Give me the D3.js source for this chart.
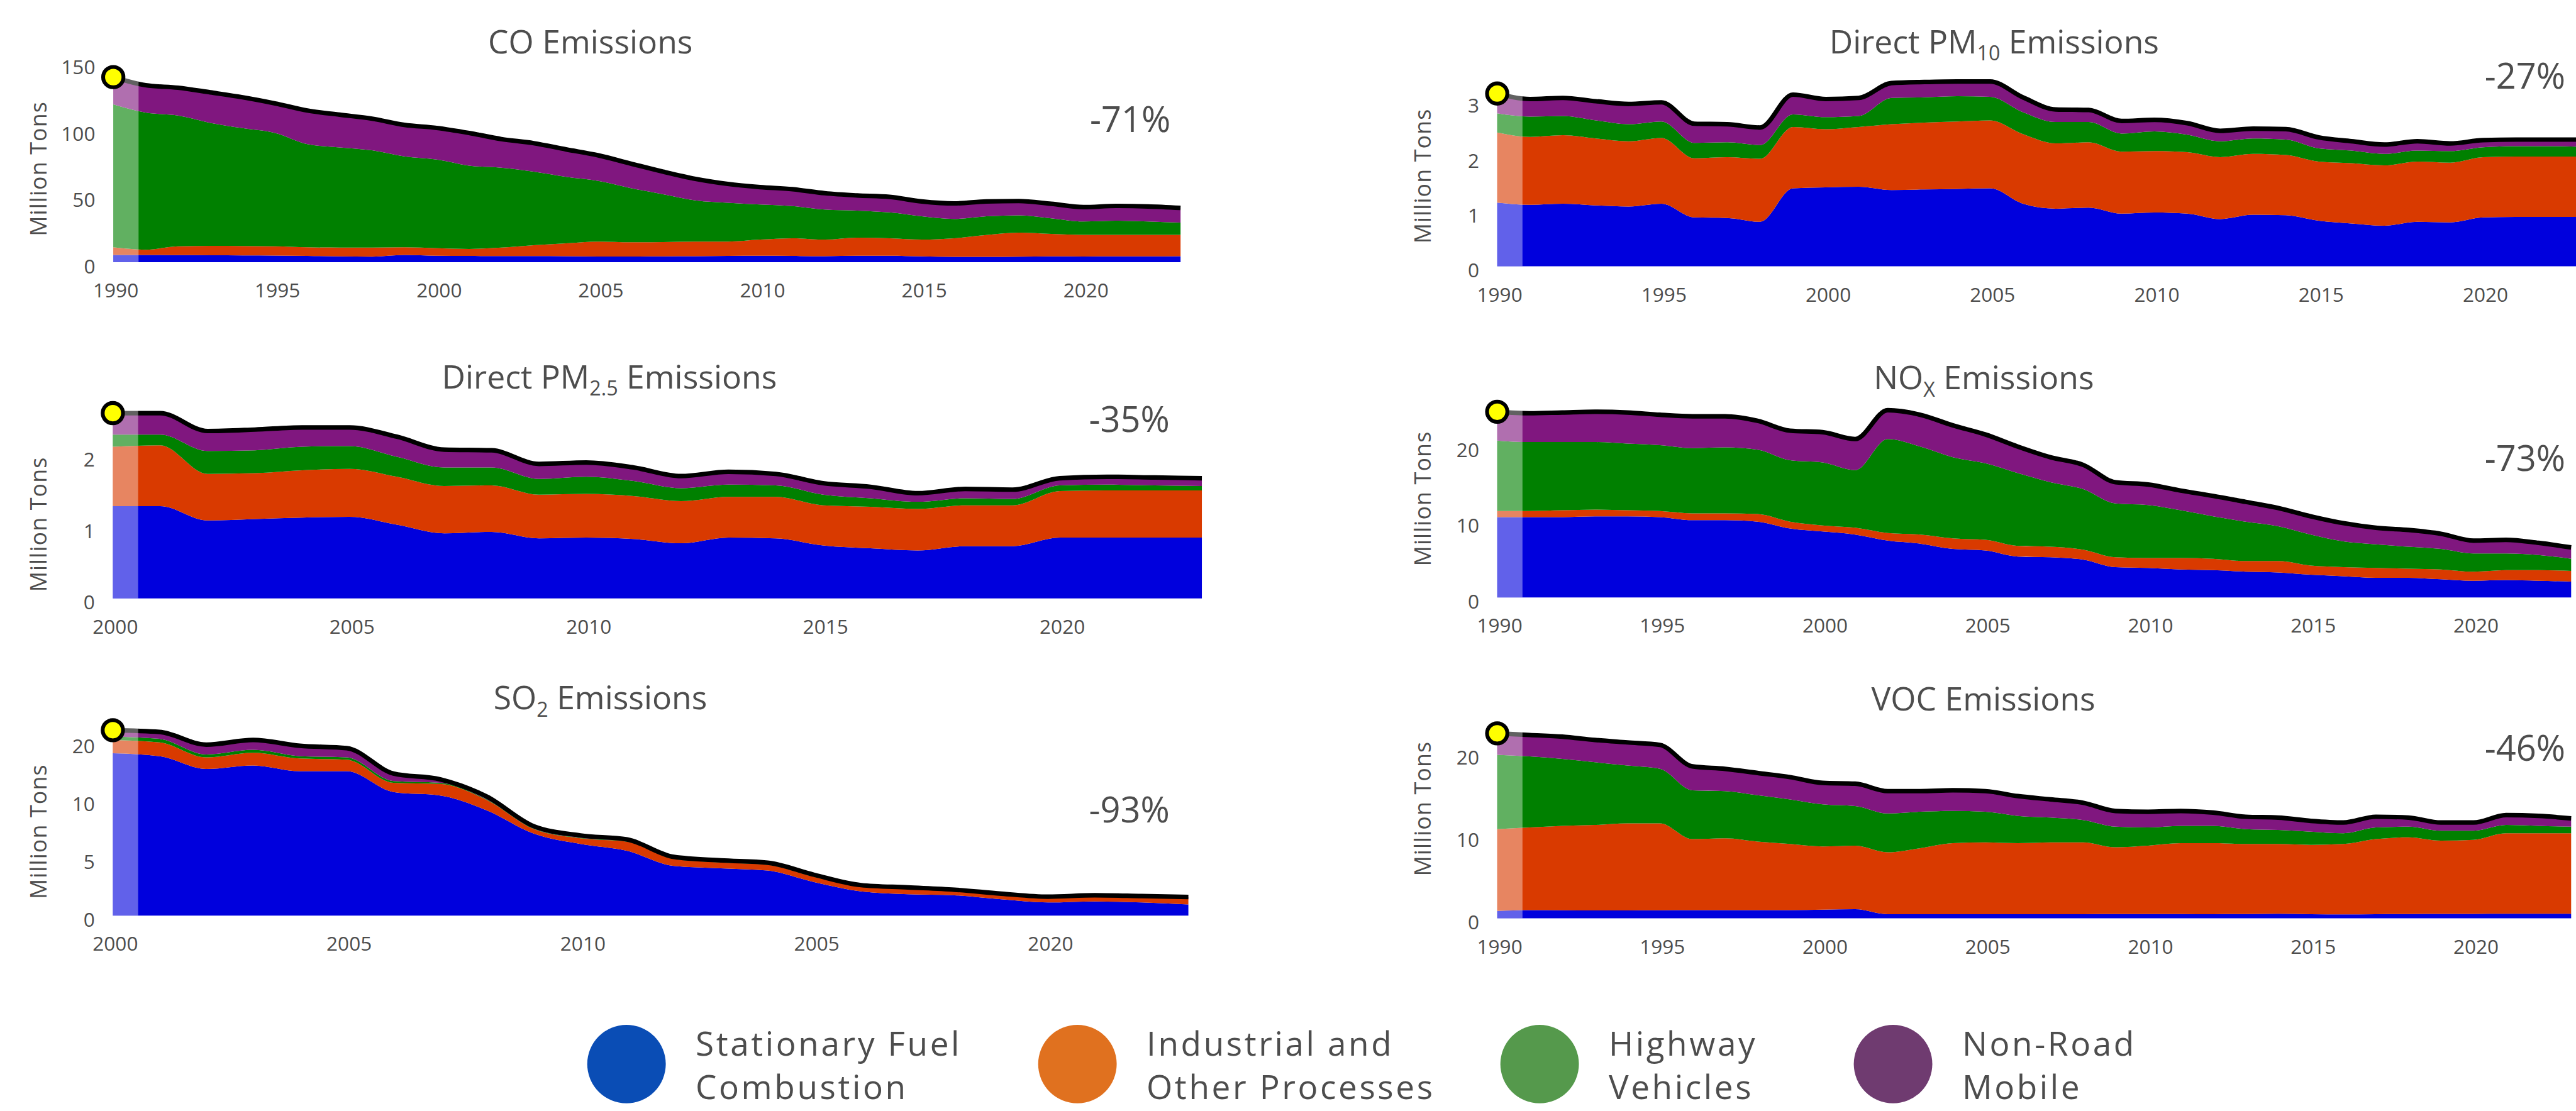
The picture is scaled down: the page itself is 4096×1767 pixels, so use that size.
<!DOCTYPE html>
<html>
<head>
<meta charset="utf-8">
<script src="https://cdn.jsdelivr.net/npm/d3@7"></script>
<style>
  html, body { margin: 0; padding: 0; background: #fff; overflow: hidden; }
  svg { display: block; }
  text { font-family: "Open Sans", "Noto Sans", sans-serif; fill: #4d4d4d; }
</style>
</head>
<body>
<svg id="chart"></svg>
<script>
// ---------------------------------------------------------------------------
// Data: emissions by source sector, million tons per year
// ---------------------------------------------------------------------------
const sectorKeys = ["stationary", "industrial", "highway", "nonroad"];
const sectorNames = [
  ["Stationary Fuel", "Combustion"],
  ["Industrial and", "Other Processes"],
  ["Highway", "Vehicles"],
  ["Non-Road", "Mobile"]
];

const years1990 = d3.range(1990, 2024);
const years2000 = d3.range(2000, 2024);

// CO, 1990-2023
const coStationary = [5.4,5.5,5.3,5.2,5.1,5.0,4.7,4.4,4.2,5.4,4.8,4.7,4.6,4.6,4.5,4.3,4.3,4.4,4.5,4.7,4.8,4.7,4.5,4.8,4.9,4.4,4.0,4.0,4.2,4.4,4.3,4.4,4.4,4.5];
const coIndustrial = [5.8,3.9,6.7,7.1,7.1,7.0,6.5,6.6,6.8,5.8,5.7,5.3,6.4,8.2,9.7,11.2,10.7,10.8,11.0,10.8,12.2,13.3,12.5,13.7,13.1,12.6,14.0,16.5,18.1,16.9,16.3,16.2,16.2,16.1];
const coHighway    = [107.8,103.4,98.5,92.7,88.8,85.4,77.8,75.5,73.3,68.5,66.9,62.8,60.2,55.4,50.1,45.7,40.8,36.0,31.1,29.3,26.5,24.3,22.7,20.4,19.5,17.6,14.6,14.1,13.0,11.8,10.1,10.7,10.1,9.2];
const coNonroad    = [20.5,20.6,21.0,23.0,23.3,22.3,25.3,24.7,23.9,23.8,23.8,24.6,21.6,21.5,20.7,19.3,18.5,17.0,16.2,14.2,13.1,12.7,12.3,11.4,11.7,11.2,11.7,11.2,10.8,10.9,10.8,11.1,11.3,11.1];

// Direct PM10, 1990-2023
const pm10Stationary = [1.16,1.12,1.14,1.11,1.09,1.14,0.89,0.88,0.81,1.42,1.44,1.45,1.39,1.40,1.41,1.42,1.14,1.05,1.07,0.96,0.98,0.96,0.86,0.94,0.93,0.83,0.78,0.74,0.81,0.80,0.89,0.90,0.90,0.90];
const pm10Industrial = [1.28,1.24,1.25,1.22,1.19,1.20,1.08,1.11,1.15,1.12,1.06,1.09,1.20,1.22,1.23,1.24,1.27,1.19,1.19,1.13,1.12,1.12,1.13,1.11,1.10,1.08,1.10,1.10,1.10,1.09,1.10,1.10,1.10,1.10];
const pm10Highway    = [0.35,0.37,0.35,0.33,0.31,0.30,0.28,0.27,0.25,0.23,0.22,0.20,0.48,0.46,0.46,0.43,0.40,0.39,0.37,0.33,0.36,0.32,0.29,0.28,0.28,0.24,0.23,0.21,0.20,0.21,0.18,0.19,0.19,0.18];
const pm10Nonroad    = [0.36,0.32,0.33,0.35,0.37,0.35,0.35,0.33,0.32,0.36,0.33,0.33,0.27,0.28,0.27,0.28,0.27,0.23,0.22,0.23,0.21,0.21,0.19,0.18,0.19,0.20,0.17,0.17,0.17,0.14,0.13,0.12,0.12,0.13];

// Direct PM2.5, 2000-2023
const pm25Stationary = [1.29,1.29,1.09,1.11,1.13,1.14,1.03,0.91,0.93,0.84,0.85,0.83,0.77,0.85,0.84,0.74,0.70,0.67,0.73,0.73,0.85,0.85,0.85,0.85];
const pm25Industrial = [0.83,0.85,0.65,0.64,0.66,0.67,0.67,0.66,0.65,0.61,0.61,0.60,0.59,0.57,0.58,0.56,0.58,0.58,0.57,0.57,0.65,0.66,0.66,0.66];
const pm25Highway    = [0.17,0.15,0.32,0.32,0.33,0.32,0.28,0.26,0.25,0.22,0.24,0.21,0.18,0.17,0.16,0.15,0.12,0.10,0.10,0.09,0.08,0.08,0.07,0.06];
const pm25Nonroad    = [0.30,0.30,0.28,0.29,0.27,0.26,0.28,0.25,0.24,0.21,0.20,0.19,0.17,0.18,0.16,0.16,0.16,0.12,0.13,0.13,0.10,0.11,0.11,0.11];

// NOx, 1990-2023
const noxStationary = [10.6,10.6,10.6,10.7,10.7,10.6,10.2,10.2,10.0,9.1,8.7,8.3,7.5,7.1,6.4,6.2,5.4,5.3,5.0,4.0,3.9,3.7,3.6,3.4,3.3,3.0,2.8,2.6,2.6,2.4,2.2,2.3,2.2,2.1];
const noxIndustrial = [0.8,0.8,0.9,0.9,0.8,0.8,0.9,0.9,1.0,0.9,0.8,0.9,1.0,1.2,1.4,1.4,1.4,1.4,1.3,1.3,1.3,1.5,1.5,1.4,1.5,1.2,1.2,1.3,1.2,1.3,1.2,1.3,1.4,1.4];
const noxHighway    = [9.3,9.1,9.0,8.9,8.8,8.7,8.6,8.7,8.5,8.1,8.3,7.6,12.4,11.6,10.7,10.1,9.6,8.5,8.0,7.1,7.0,6.3,5.6,5.2,4.6,4.1,3.4,3.1,2.9,2.7,2.4,2.2,2.0,1.6];
const noxNonroad    = [3.8,3.8,3.9,4.0,4.1,4.0,4.2,4.1,3.8,3.9,4.0,4.1,3.8,4.2,4.2,3.8,3.5,3.3,3.2,2.8,2.7,2.6,2.7,2.6,2.4,2.4,2.4,2.2,2.2,2.0,1.7,1.8,1.6,1.5];

// SO2, 2000-2023
const so2Stationary = [14.05,13.8,12.7,13.0,12.5,12.5,10.7,10.4,9.1,7.1,6.2,5.6,4.3,4.1,3.9,2.9,2.1,1.85,1.76,1.41,1.14,1.23,1.14,0.97];
const so2Industrial = [1.15,1.2,1.0,1.1,1.1,1.0,0.8,1.0,0.9,0.4,0.5,0.8,0.6,0.5,0.5,0.45,0.4,0.45,0.34,0.35,0.36,0.39,0.41,0.5];
const so2Highway    = [0.3,0.3,0.25,0.25,0.2,0.2,0.15,0.1,0.05,0.04,0.04,0.04,0.03,0.03,0.03,0.03,0.02,0.02,0.02,0.02,0.02,0.02,0.02,0.02];
const so2Nonroad    = [0.55,0.6,0.85,0.85,0.9,0.8,0.65,0.3,0.25,0.2,0.2,0.15,0.15,0.15,0.15,0.15,0.12,0.12,0.12,0.12,0.12,0.12,0.12,0.12];

// VOC, 1990-2023
const vocStationary = [0.9,1.0,0.98,0.96,0.96,0.97,0.99,0.99,1.0,1.0,1.05,1.1,0.5,0.5,0.5,0.5,0.5,0.5,0.5,0.51,0.52,0.52,0.5,0.52,0.55,0.5,0.48,0.5,0.52,0.53,0.54,0.55,0.55,0.55];
const vocIndustrial = [9.9,10.0,10.22,10.34,10.54,10.53,8.61,8.71,8.3,8.0,7.65,7.7,7.5,8.0,8.6,8.7,8.6,8.7,8.7,8.09,8.28,8.58,8.6,8.48,8.45,8.4,8.52,9.1,9.28,8.87,8.96,9.75,9.75,9.75];
const vocHighway    = [9.0,8.6,8.1,7.6,7.0,6.6,5.9,5.7,5.6,5.4,5.1,4.8,4.7,4.4,3.9,3.7,3.3,3.0,2.7,2.5,2.2,2.1,2.1,1.8,1.7,1.6,1.3,1.4,1.3,1.2,1.1,1.0,0.9,0.8];
const vocNonroad    = [2.6,2.6,2.7,2.7,2.8,2.9,2.9,2.7,2.7,2.7,2.6,2.7,2.7,2.5,2.5,2.5,2.4,2.2,2.1,1.9,1.9,1.8,1.6,1.5,1.5,1.3,1.3,1.3,1.1,1.0,1.0,1.2,1.2,1.0];

// Axis ticks and labels
const ticks1990 = [1990, 1995, 2000, 2005, 2010, 2015, 2020];
const ticks2000 = [2000, 2005, 2010, 2015, 2020];
const so2YearLabels = ["2000", "2005", "2010", "2005", "2020"];
const coTicks = [0, 50, 100, 150];
const pm10Ticks = [0, 1, 2, 3];
const pm25Ticks = [0, 1, 2];
const noxTicks = [0, 10, 20];
const so2Ticks = [0, 5, 10, 15];
const so2TickLabels = ["0", "5", "10", "20"];
const vocTicks = [0, 10, 20];

// Percent change labels
const changeLabels = ["-71%", "-27%", "-35%", "-73%", "-93%", "-46%"];

// ---------------------------------------------------------------------------
// Styling and layout (drawing units = 5707 x 2462 canvas, scaled to window)
// ---------------------------------------------------------------------------
const W = 5707, H = 2462;
const areaColors = ["#0000dd", "#d93a00", "#008000", "#80177f"];
const legendColors = ["#0a4db5", "#e0711f", "#55994c", "#6f3b70"];
const textColor = "#4d4d4d";

const panels = [
  { title: [["CO Emissions", false]], years: years1990,
    series: [coStationary, coIndustrial, coHighway, coNonroad],
    yTicks: coTicks, yLabels: null, xTicks: ticks1990, xLabels: null, change: changeLabels[0],
    L: { x0: 251, pxYear: 71.65, base: 581, unit: 2.94, yMax: 150,
         titleX: 1308, titleY: 118, pctX: 2504, pctY: 292, ylabX: 103, ylabY: 374 } },
  { title: [["Direct PM", false], ["10", true], [" Emissions", false]], years: years1990,
    series: [pm10Stationary, pm10Industrial, pm10Highway, pm10Nonroad],
    yTicks: pm10Ticks, yLabels: null, xTicks: ticks1990, xLabels: null, change: changeLabels[1],
    L: { x0: 3317, pxYear: 72.8, base: 590, unit: 121.5, yMax: 3,
         titleX: 4418, titleY: 118, pctX: 5594, pctY: 196, ylabX: 3170, ylabY: 390 } },
  { title: [["Direct PM", false], ["2.5", true], [" Emissions", false]], years: years2000,
    series: [pm25Stationary, pm25Industrial, pm25Highway, pm25Nonroad],
    yTicks: pm25Ticks, yLabels: null, xTicks: ticks2000, xLabels: null, change: changeLabels[2],
    L: { x0: 250, pxYear: 104.9, base: 1326, unit: 158.5, yMax: 2,
         titleX: 1350, titleY: 861, pctX: 2502, pctY: 957, ylabX: 103, ylabY: 1162 } },
  { title: [["NO", false], ["X", true], [" Emissions", false]], years: years1990,
    series: [noxStationary, noxIndustrial, noxHighway, noxNonroad],
    yTicks: noxTicks, yLabels: null, xTicks: ticks1990, xLabels: null, change: changeLabels[3],
    L: { x0: 3317, pxYear: 72.1, base: 1324, unit: 16.8, yMax: 20,
         titleX: 4395, titleY: 863, pctX: 5594, pctY: 1044, ylabX: 3170, ylabY: 1105 } },
  { title: [["SO", false], ["2", true], [" Emissions", false]], years: years2000,
    series: [so2Stationary, so2Industrial, so2Highway, so2Nonroad],
    yTicks: so2Ticks, yLabels: so2TickLabels, xTicks: ticks2000, xLabels: so2YearLabels, change: changeLabels[4],
    L: { x0: 250, pxYear: 103.6, base: 2029, unit: 25.6, yMax: 15,
         titleX: 1330, titleY: 1572, pctX: 2502, pctY: 1822, ylabX: 103, ylabY: 1843 } },
  { title: [["VOC Emissions", false]], years: years1990,
    series: [vocStationary, vocIndustrial, vocHighway, vocNonroad],
    yTicks: vocTicks, yLabels: null, xTicks: ticks1990, xLabels: null, change: changeLabels[5],
    L: { x0: 3317, pxYear: 72.1, base: 2035, unit: 18.3, yMax: 20,
         titleX: 4394, titleY: 1574, pctX: 5594, pctY: 1686, ylabX: 3170, ylabY: 1792 } }
];

const legendLayout = { cx: [1388, 2387, 3411, 4194], cy: 2358, r: 87, textDx: 153, line1: 2340, line2: 2436 };

// ---------------------------------------------------------------------------
// Drawing
// ---------------------------------------------------------------------------
const svg = d3.select("#chart")
  .attr("width", 4096).attr("height", 1767)
  .attr("viewBox", `0 0 ${W} ${H}`)
  .attr("preserveAspectRatio", "xMinYMin meet");

svg.append("rect").attr("width", W).attr("height", H).attr("fill", "#fff");

const firstStripWidth = 56;

panels.forEach(p => {
  const L = p.L;
  const g = svg.append("g").attr("class", "panel");
  const n = p.years.length;

  const x = d3.scaleLinear()
    .domain([p.years[0], p.years[n - 1]])
    .range([L.x0, L.x0 + (n - 1) * L.pxYear]);
  const y = d3.scaleLinear()
    .domain([0, L.yMax])
    .range([L.base, L.base - L.yMax * L.unit]);

  const rows = p.years.map((yr, i) => {
    const r = { year: yr };
    sectorKeys.forEach((k, j) => { r[k] = p.series[j][i]; });
    return r;
  });
  const stacked = d3.stack().keys(sectorKeys)(rows);
  const totals = rows.map(r => d3.sum(sectorKeys, k => r[k]));

  const area = d3.area()
    .x(d => x(d.data.year))
    .y0(d => y(d[0]))
    .y1(d => y(d[1]))
    .curve(d3.curveMonotoneX);

  g.selectAll("path.layer")
    .data(stacked)
    .join("path")
    .attr("class", "layer")
    .attr("d", area)
    .attr("fill", (d, i) => areaColors[i]);

  const totalLine = d3.line()
    .x((d, i) => x(p.years[i]))
    .y(d => y(d))
    .curve(d3.curveMonotoneX);

  g.append("path")
    .datum(totals)
    .attr("d", totalLine)
    .attr("fill", "none")
    .attr("stroke", "#000")
    .attr("stroke-width", 10)
    .attr("stroke-linejoin", "round");

  // pale band marking the first (baseline) year
  const topY = y(totals[0]) - 30;
  g.append("rect")
    .attr("x", x(p.years[0]))
    .attr("y", topY)
    .attr("width", firstStripWidth)
    .attr("height", L.base - topY)
    .attr("fill", "#fff")
    .attr("opacity", 0.38);

  // baseline-year marker
  g.append("circle")
    .attr("cx", x(p.years[0]))
    .attr("cy", y(totals[0]))
    .attr("r", 22.5)
    .attr("fill", "#ffff00")
    .attr("stroke", "#000")
    .attr("stroke-width", 8.5);

  // y axis labels
  const yAxis = d3.axisLeft(y)
    .tickValues(p.yTicks)
    .tickSize(0)
    .tickPadding(40)
    .tickFormat((d, i) => p.yLabels ? p.yLabels[i] : d3.format("d")(d));
  const yg = g.append("g").attr("transform", `translate(${L.x0},10)`).call(yAxis);
  yg.select(".domain").remove();
  yg.attr("font-family", null).attr("font-size", null);
  yg.selectAll("text").attr("font-size", 44).attr("fill", textColor);

  // x axis labels
  const xAxis = d3.axisBottom(x)
    .tickValues(p.xTicks)
    .tickSize(0)
    .tickPadding(0)
    .tickFormat((d, i) => p.xLabels ? p.xLabels[i] : String(d));
  const xg = g.append("g").attr("transform", `translate(5,${L.base + 47})`).call(xAxis);
  xg.select(".domain").remove();
  xg.attr("font-family", null).attr("font-size", null);
  xg.selectAll("text").attr("font-size", 44).attr("fill", textColor);

  // y axis title
  g.append("text")
    .attr("transform", `translate(${L.ylabX},${L.ylabY}) rotate(-90)`)
    .attr("text-anchor", "middle")
    .attr("font-size", 50)
    .attr("letter-spacing", 1.5)
    .text("Million Tons");

  // panel title
  const t = g.append("text")
    .attr("x", L.titleX)
    .attr("y", L.titleY)
    .attr("text-anchor", "middle")
    .attr("font-size", 72);
  p.title.forEach(([s, sub]) => {
    const ts = t.append("tspan").text(s);
    if (sub) ts.attr("font-size", 45).attr("dy", 16);
    else if (t.selectAll("tspan").size() > 1) ts.attr("dy", -16);
  });

  // percent change
  g.append("text")
    .attr("x", L.pctX)
    .attr("y", L.pctY)
    .attr("text-anchor", "middle")
    .attr("font-size", 78)
    .text(p.change);
});

// Legend
const lg = svg.append("g").attr("class", "legend");
sectorNames.forEach((lines, i) => {
  const cx = legendLayout.cx[i];
  lg.append("circle")
    .attr("cx", cx).attr("cy", legendLayout.cy).attr("r", legendLayout.r)
    .attr("fill", legendColors[i]);
  const tx = lg.append("text")
    .attr("x", cx + legendLayout.textDx)
    .attr("font-size", 74)
    .attr("letter-spacing", 5);
  tx.append("tspan").attr("x", cx + legendLayout.textDx).attr("y", legendLayout.line1).text(lines[0]);
  tx.append("tspan").attr("x", cx + legendLayout.textDx).attr("y", legendLayout.line2).text(lines[1]);
});
</script>
</body>
</html>
